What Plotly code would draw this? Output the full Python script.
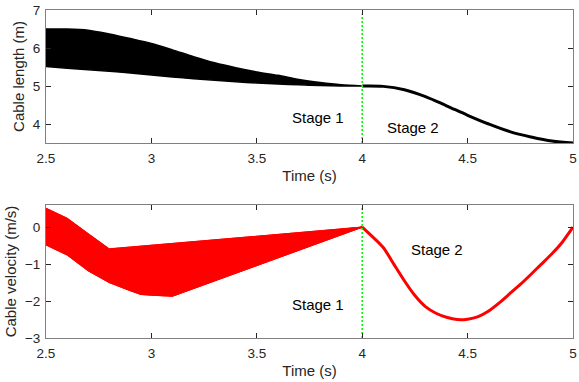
import plotly.graph_objects as go

# ---------------- data ----------------
# Stage 1: envelope of the cable-length bundle (m)
t_stage1 = [2.5, 2.6, 2.7, 2.8, 2.9, 3.0, 3.1, 3.2, 3.3, 3.4, 3.5, 3.6, 3.7, 3.8, 3.9, 4.0]
length_upper = [6.50, 6.50, 6.47, 6.37, 6.25, 6.12, 5.95, 5.77, 5.61, 5.48, 5.37, 5.28, 5.17, 5.09, 5.03, 5.00]
length_lower = [5.51, 5.47, 5.43, 5.39, 5.34, 5.29, 5.24, 5.19, 5.15, 5.11, 5.08, 5.05, 5.03, 5.01, 5.00, 5.00]

# Stage 2: single cable-length trajectory (m)
t_stage2 = [4.0, 4.1, 4.2, 4.3, 4.4, 4.5, 4.6, 4.7, 4.8, 4.9, 5.0]
length_stage2 = [5.00, 4.99, 4.90, 4.72, 4.48, 4.23, 4.00, 3.80, 3.66, 3.55, 3.50]

# Stage 1: cable-velocity bundle (m/s), one list pair per cable
vel_t1 = [
    [2.5, 2.6, 2.7, 2.8, 4.0],
    [2.5, 2.6, 2.7, 2.8, 4.0],
    [2.5, 2.6, 2.7, 2.8, 2.9, 4.0],
    [2.5, 2.6, 2.7, 2.8, 2.9, 4.0],
    [2.5, 2.6, 2.7, 2.8, 2.9, 3.0, 4.0],
    [2.5, 2.6, 2.7, 2.8, 2.9, 3.0, 4.0],
    [2.5, 2.6, 2.7, 2.8, 2.9, 2.95, 3.0, 3.1, 4.0],
]
vel_v1 = [
    [0.51, 0.24, -0.18, -0.59, 0.0],
    [0.35, 0.08, -0.35, -0.75, 0.0],
    [0.20, -0.08, -0.50, -0.90, -1.05, 0.0],
    [0.05, -0.25, -0.68, -1.05, -1.25, 0.0],
    [-0.10, -0.40, -0.82, -1.20, -1.42, -1.50, 0.0],
    [-0.25, -0.55, -0.98, -1.35, -1.58, -1.68, 0.0],
    [-0.48, -0.75, -1.18, -1.50, -1.72, -1.82, -1.84, -1.87, 0.0],
]

# Stage 2: single cable-velocity trajectory (m/s)
t_vel2 = [4.0, 4.1, 4.15, 4.2, 4.25, 4.3, 4.35, 4.4, 4.45, 4.5, 4.55, 4.6,
          4.65, 4.7, 4.75, 4.8, 4.85, 4.9, 4.95, 5.0]
vel_stage2 = [0.0, -0.55, -1.00, -1.45, -1.85, -2.15, -2.33, -2.44, -2.50, -2.49,
              -2.42, -2.27, -2.05, -1.80, -1.55, -1.28, -1.00, -0.72, -0.40, 0.0]

# Stage boundary and ticks
t_switch = 4.0
x_ticks = [2.5, 3, 3.5, 4, 4.5, 5]
x_tick_text = ["2.5", "3", "3.5", "4", "4.5", "5"]
len_ticks = [4, 5, 6, 7]
vel_ticks = [-3, -2, -1, 0]

# ---------------- styling ----------------
FONT = "Liberation Sans, Arial, Helvetica, sans-serif"
TXT = "#262626"
BLACK = "#000000"
RED = "#ff0000"
GREEN = "#00ff00"
DOTS = "2px,2px"

fig = go.Figure()

# --- top panel: cable length ---
fig.add_trace(go.Scatter(
    x=t_stage1 + t_stage1[::-1], y=length_upper + length_lower[::-1],
    fill="toself", fillcolor=BLACK, mode="lines",
    line=dict(color=BLACK, width=1.5, shape="spline", smoothing=0.8),
    xaxis="x", yaxis="y", hoverinfo="skip"))
fig.add_trace(go.Scatter(
    x=t_stage2, y=length_stage2, mode="lines",
    line=dict(color=BLACK, width=3, shape="spline"), xaxis="x", yaxis="y"))
fig.add_trace(go.Scatter(
    x=[t_switch, t_switch], y=[3.5, 6.9], mode="lines",
    line=dict(color=GREEN, width=1.6, dash=DOTS), xaxis="x", yaxis="y"))

# --- bottom panel: cable velocity ---
fig.add_trace(go.Scatter(
    x=vel_t1[0] + vel_t1[-1][::-1], y=vel_v1[0] + vel_v1[-1][::-1],
    fill="toself", fillcolor=RED, mode="lines",
    line=dict(color=RED, width=1), xaxis="x2", yaxis="y2", hoverinfo="skip"))
for tt, vv in zip(vel_t1, vel_v1):
    fig.add_trace(go.Scatter(
        x=tt, y=vv, mode="lines", line=dict(color=RED, width=1.2),
        xaxis="x2", yaxis="y2"))
fig.add_trace(go.Scatter(
    x=t_vel2, y=vel_stage2, mode="lines",
    line=dict(color=RED, width=3, shape="spline", smoothing=0.5),
    xaxis="x2", yaxis="y2"))
fig.add_trace(go.Scatter(
    x=[t_switch, t_switch], y=[-3, 0.52], mode="lines",
    line=dict(color=GREEN, width=1.6, dash=DOTS), xaxis="x2", yaxis="y2"))

stage_font = dict(family=FONT, size=15, color=BLACK)
annots = [
    dict(x=3.79, y=4.16, xref="x", yref="y", text="Stage 1"),
    dict(x=4.24, y=3.92, xref="x", yref="y", text="Stage 2"),
    dict(x=3.79, y=-2.1, xref="x2", yref="y2", text="Stage 1"),
    dict(x=4.355, y=-0.61, xref="x2", yref="y2", text="Stage 2"),
]
for a in annots:
    a.update(showarrow=False, font=stage_font, xanchor="center", yanchor="middle")

axis_common = dict(
    showline=True, linecolor="#808080", linewidth=1, mirror="ticks",
    ticks="inside", ticklen=5, tickwidth=1, tickcolor="#262626",
    showgrid=False, zeroline=False, automargin=False,
    tickfont=dict(family=FONT, size=13.5, color=TXT),
    title_font=dict(family=FONT, size=15, color=TXT),
)

W, H = 579, 382
L, R, T, B = 46, 6, 10, 44
ph = H - T - B


def ydom(top_px, bot_px):
    return [(H - B - bot_px) / ph, (H - B - top_px) / ph]


fig.update_layout(
    width=W, height=H, margin=dict(l=L, r=R, t=T, b=B),
    paper_bgcolor="white", plot_bgcolor="white", showlegend=False,
    annotations=annots,
    xaxis=dict(axis_common, domain=[0, 1], range=[2.5, 5], tickvals=x_ticks,
               ticktext=x_tick_text, anchor="y", ticklabelstandoff=3,
               title=dict(text="Time (s)", standoff=5)),
    yaxis=dict(axis_common, domain=ydom(10, 143), range=[3.5, 7],
               tickvals=len_ticks, anchor="x", ticklabelstandoff=2,
               title=dict(text="Cable length (m)", standoff=4)),
    xaxis2=dict(axis_common, domain=[0, 1], range=[2.5, 5], tickvals=x_ticks,
                ticktext=x_tick_text, anchor="y2", ticklabelstandoff=3,
                title=dict(text="Time (s)", standoff=5)),
    yaxis2=dict(axis_common, domain=ydom(205, 338), range=[-3, 0.6],
                tickvals=vel_ticks, anchor="x2", ticklabelstandoff=2,
                title=dict(text="Cable velocity (m/s)", standoff=4)),
)

fig.write_html("out.html")
